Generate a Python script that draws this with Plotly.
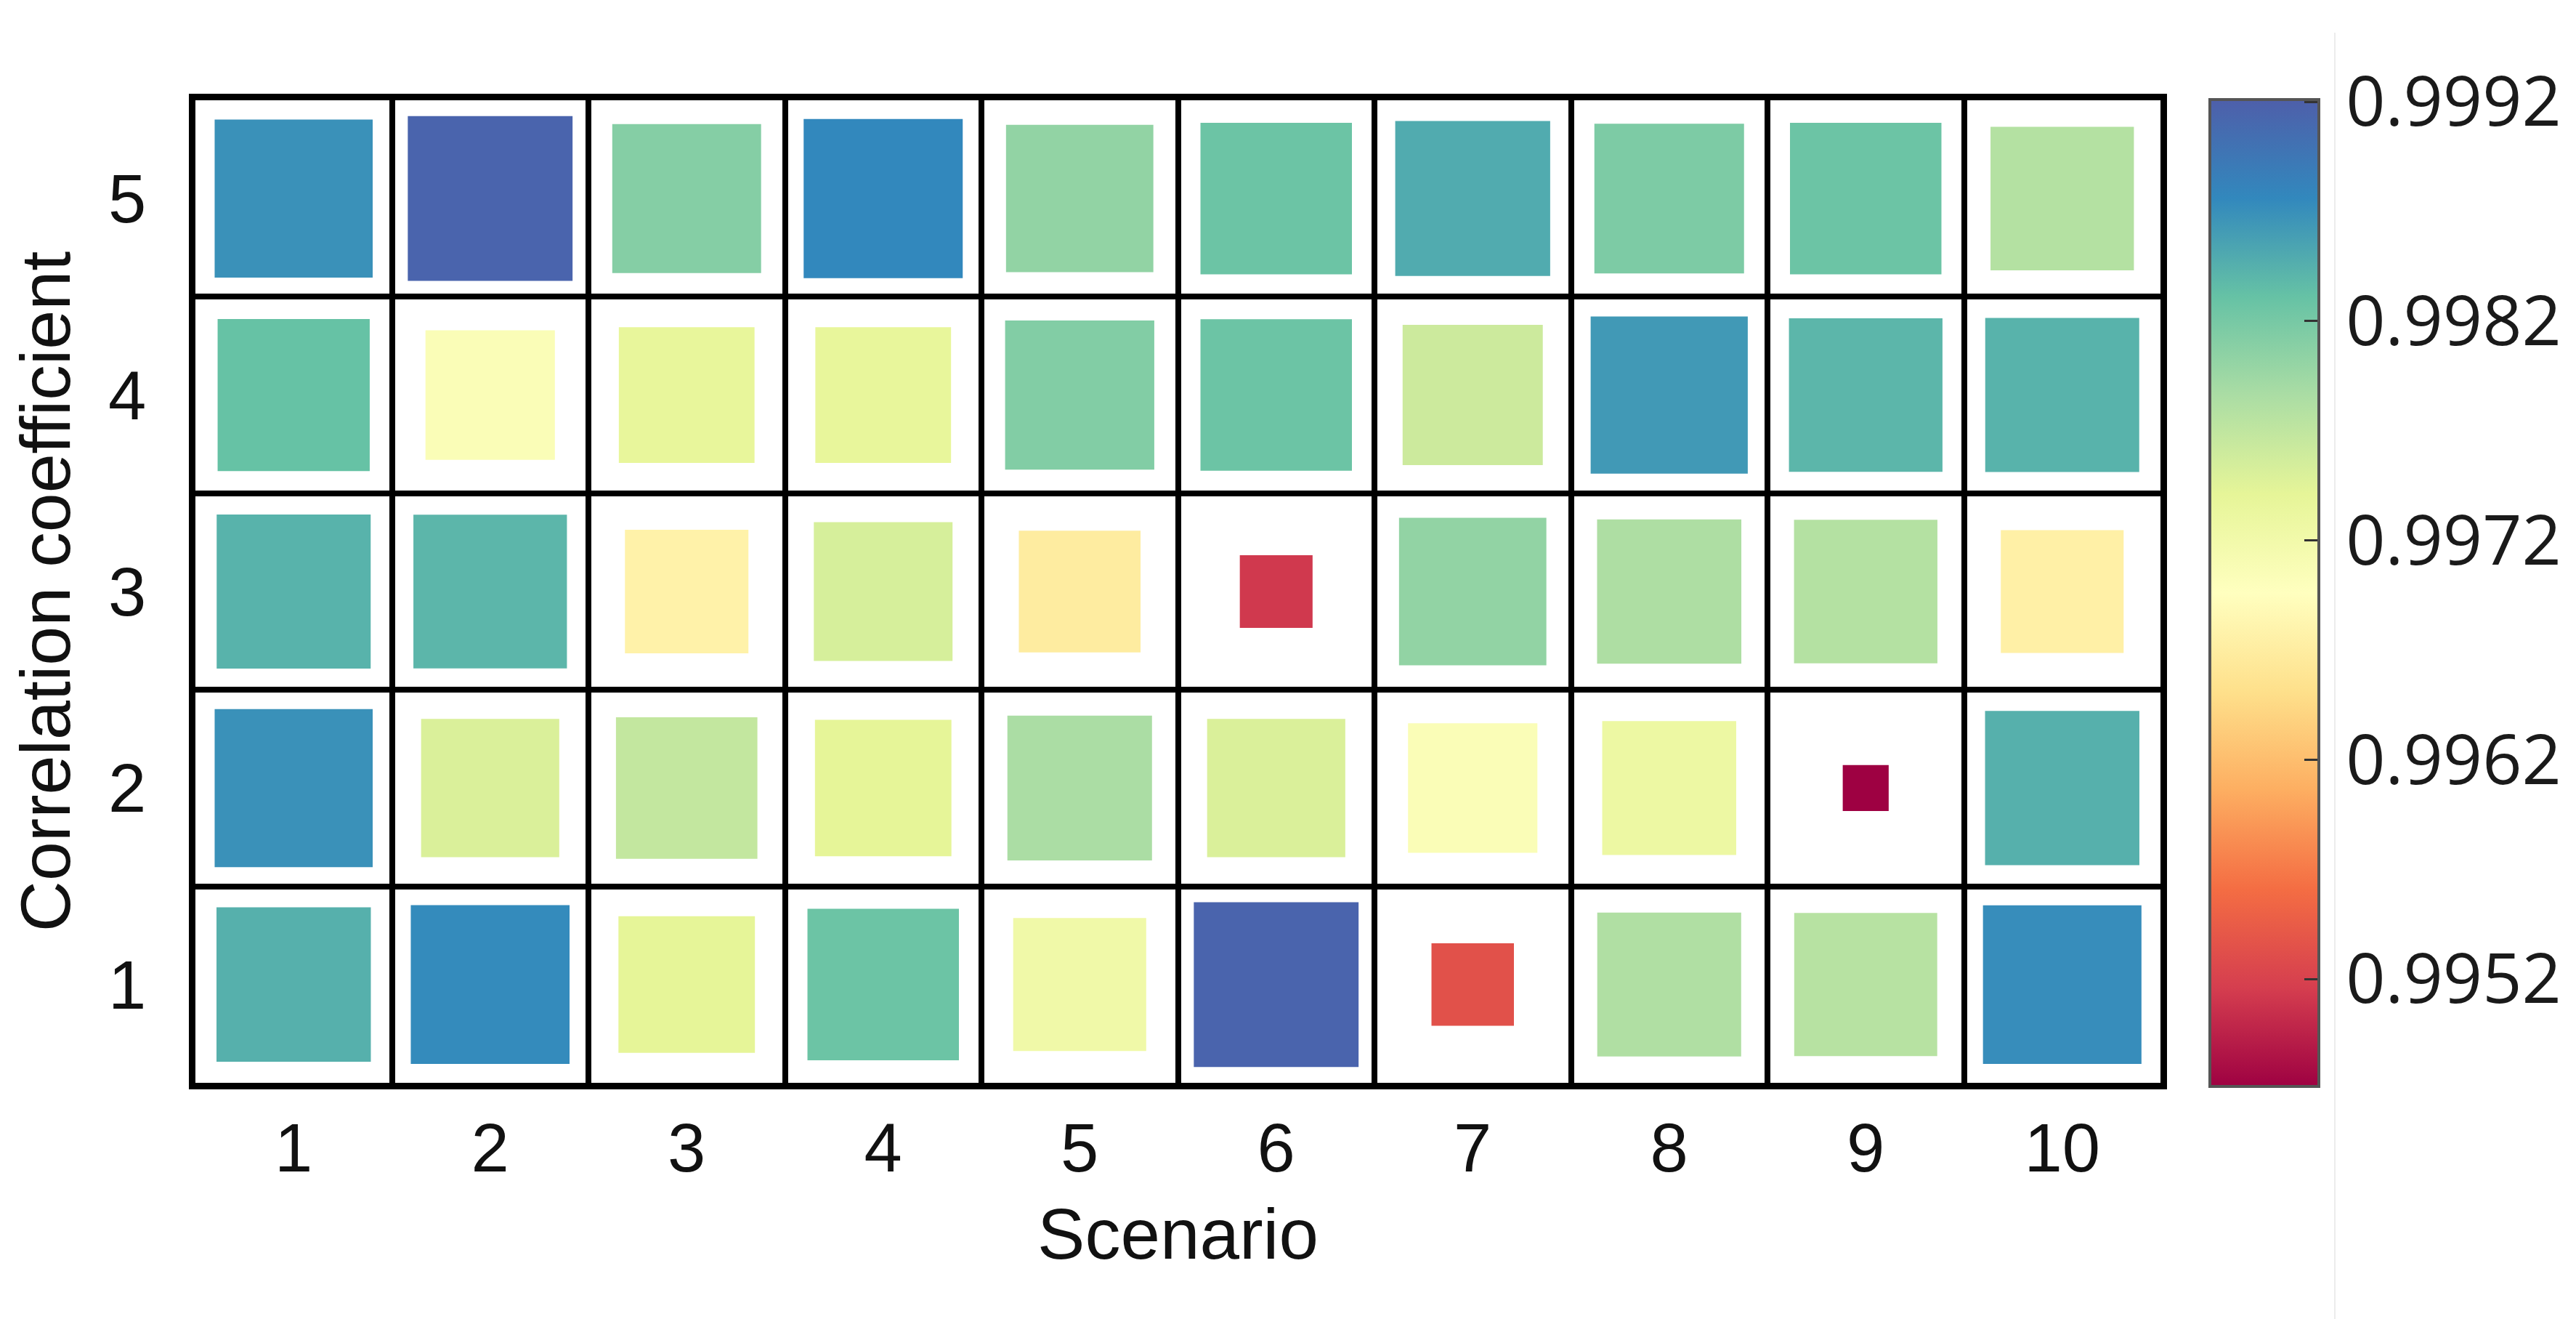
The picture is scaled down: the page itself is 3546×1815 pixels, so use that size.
import plotly.graph_objects as go

# ---------------- data ----------------
scenarios = [1, 2, 3, 4, 5, 6, 7, 8, 9, 10]
levels = [1, 2, 3, 4, 5]

r_level1 = [0.99845, 0.99874, 0.99741, 0.99827, 0.99723, 0.99915, 0.99534, 0.99782, 0.99777, 0.99872]
r_level2 = [0.99869, 0.99750, 0.99768, 0.99741, 0.99786, 0.99750, 0.99705, 0.99728, 0.99471, 0.99845]
r_level3 = [0.99843, 0.99840, 0.99677, 0.99753, 0.99669, 0.99512, 0.99802, 0.99784, 0.99779, 0.99674]
r_level4 = [0.99831, 0.99705, 0.99737, 0.99737, 0.99813, 0.99827, 0.99761, 0.99863, 0.99840, 0.99843]
r_level5 = [0.99869, 0.99915, 0.99811, 0.99876, 0.99802, 0.99827, 0.99849, 0.99816, 0.99827, 0.99779]

cb_tickvals = [0.9952, 0.9962, 0.9972, 0.9982, 0.9992]
cb_ticktext = ["0.9952", "0.9962", "0.9972", "0.9982", "0.9992"]

# ---------------- styling ----------------
CMIN, CMAX = 0.99471, 0.99921
V0 = 0.99452
SIZE_MAX = 228
W, H = 3546, 1815
ML, MR, MT, MB = 261, 580, 130, 333
pw = W - ML - MR
ph = H - MT - MB

spectral = [
    [0.0, "rgb(158,1,66)"], [0.1, "rgb(213,62,79)"], [0.2, "rgb(244,109,67)"],
    [0.3, "rgb(253,174,97)"], [0.4, "rgb(254,224,139)"], [0.5, "rgb(255,255,191)"],
    [0.6, "rgb(230,245,152)"], [0.7, "rgb(171,221,164)"], [0.8, "rgb(102,194,165)"],
    [0.9, "rgb(50,136,189)"], [1.0, "rgb(78,95,170)"],
]

rows = [r_level1, r_level2, r_level3, r_level4, r_level5]
xs, ys, vs = [], [], []
for lev, row in zip(levels, rows):
    for sc, v in zip(scenarios, row):
        xs.append(sc)
        ys.append(lev)
        vs.append(v)

sizes = [SIZE_MAX * (max(v - V0, 1e-7) / (CMAX - V0)) ** 0.4 for v in vs]

fig = go.Figure()
fig.add_trace(go.Scatter(
    x=xs, y=ys, mode="markers",
    marker=dict(
        symbol="square", size=sizes, color=vs, colorscale=spectral,
        cmin=CMIN, cmax=CMAX, line=dict(width=0), opacity=1,
        showscale=True,
        colorbar=dict(
            thickness=150, thicknessmode="pixels",
            len=1358 / ph, lenmode="fraction",
            x=(3034 - ML) / pw, xanchor="left",
            y=(H - MB - 808) / ph, yanchor="middle",
            outlinecolor="#555555", outlinewidth=4,
            tickmode="array", tickvals=cb_tickvals,
            ticktext=["\u2009" + t for t in cb_ticktext],
            ticks="inside", ticklen=22, tickwidth=3, tickcolor="#333333",
            tickfont=dict(family="Open Sans", size=95, color="#1a1a1a"),
            xpad=0, ypad=0,
        ),
    ),
    hoverinfo="x+y+text", text=[f"{v:.5f}" for v in vs],
    showlegend=False,
))

axis_common = dict(
    showline=True, mirror=True, linecolor="black", linewidth=9,
    showgrid=False, zeroline=False, ticks="",
    tickfont=dict(family="Liberation Sans, Arial", size=94, color="#111111"),
)

fig.update_xaxes(
    range=[0.5, 10.5], tickmode="array", tickvals=scenarios,
    ticktext=[str(s) for s in scenarios],
    minor=dict(tickmode="array", tickvals=[s + 0.5 for s in scenarios[:-1]],
               showgrid=True, gridcolor="black", gridwidth=8, ticks=""),
    title=dict(text="Scenario", standoff=36,
               font=dict(family="Liberation Sans, Arial", size=98, color="#111111")),
    ticklabelstandoff=0,
    **axis_common,
)
fig.update_yaxes(
    range=[0.5, 5.5], tickmode="array", tickvals=levels,
    ticktext=[str(l) for l in levels],
    minor=dict(tickmode="array", tickvals=[l + 0.5 for l in levels[:-1]],
               showgrid=True, gridcolor="black", gridwidth=8, ticks=""),
    title=dict(text="Correlation coefficient", standoff=40,
               font=dict(family="Liberation Sans, Arial", size=97, color="#111111")),
    ticklabelstandoff=40,
    **axis_common,
)

fig.add_shape(type="line", xref="paper", yref="paper",
              x0=(3206 - ML) / pw, x1=(3206 - ML) / pw,
              y0=(H - MB - H) / ph, y1=(H - MB - 37) / ph,
              line=dict(color="#ececec", width=2), layer="below")

fig.update_layout(
    width=W, height=H,
    margin=dict(l=ML, r=MR, t=MT, b=MB, autoexpand=False),
    paper_bgcolor="white", plot_bgcolor="white",
)

fig.write_html("out.html")
